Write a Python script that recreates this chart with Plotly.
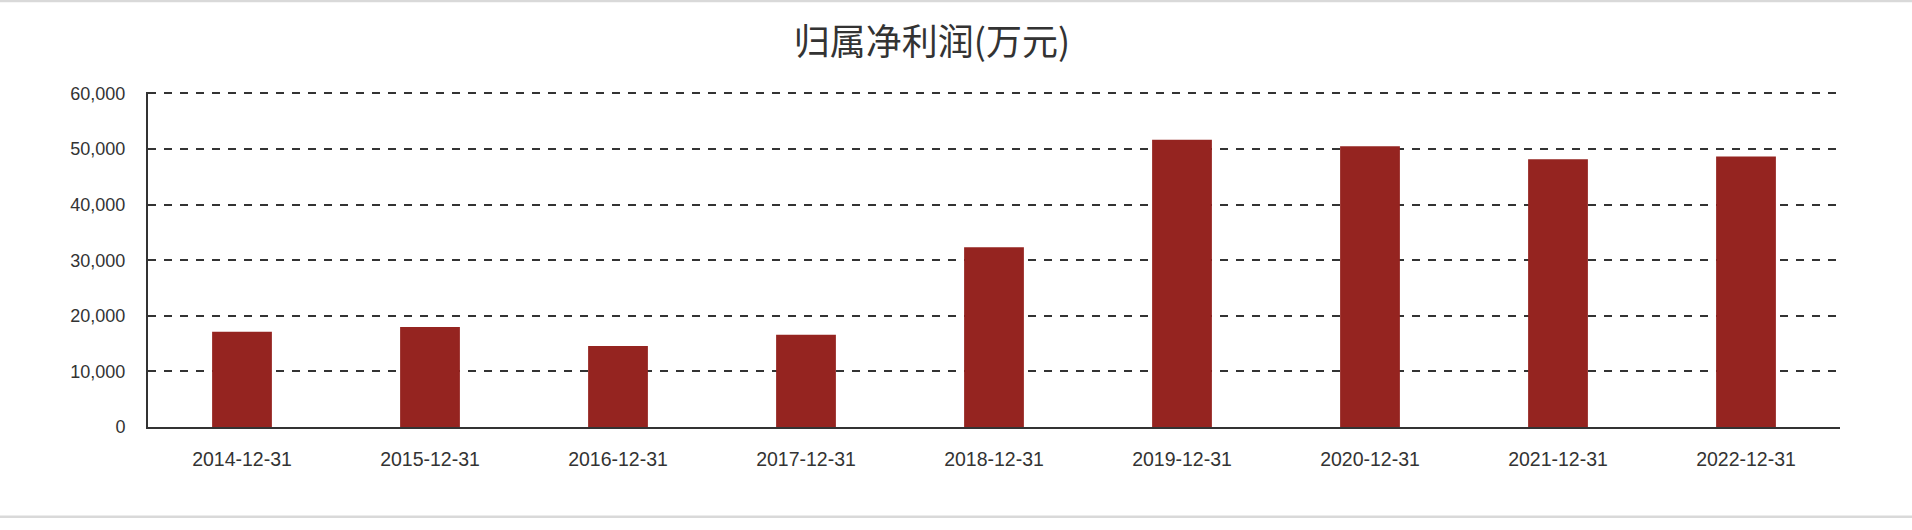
import plotly.graph_objects as go

categories = ["2014-12-31", "2015-12-31", "2016-12-31", "2017-12-31", "2018-12-31",
              "2019-12-31", "2020-12-31", "2021-12-31", "2022-12-31"]
profit = [17150, 18000, 14590, 16610, 32330, 51680, 50480, 48150, 48640]
y_ticks = [0, 10000, 20000, 30000, 40000, 50000, 60000]
y_tick_text = ["0", "10,000", "20,000", "30,000", "40,000", "50,000", "60,000"]
title_text = "归属净利润(万元)"

W, H = 1912, 530
ML, MR, MT, MB = 148, 72, 92, 103
plot_h = H - MT - MB
plot_w = W - ML - MR

fig = go.Figure(go.Bar(
    x=categories, y=profit,
    marker=dict(color="#952420", line=dict(width=0)),
    width=0.318,
))

fig.update_layout(
    width=W, height=H,
    margin=dict(l=ML, r=MR, t=MT, b=MB, autoexpand=False),
    paper_bgcolor="white", plot_bgcolor="white",
    showlegend=False,
    title=dict(text=title_text, x=932 / W, xref="container", xanchor="center",
               y=1 - 42 / H, yref="container", yanchor="middle",
               font=dict(family="Noto Sans CJK SC", size=36, color="#333333")),
    font=dict(family="Liberation Sans, Arial", color="#333333"),
    bargap=0.68,
)

fig.update_xaxes(
    type="category", showgrid=False, zeroline=False, automargin=False,
    showline=True, linecolor="#333333", linewidth=2,
    ticks="", tickfont=dict(size=19.5, color="#333333"),
    ticklabelstandoff=14,
)
fig.update_yaxes(
    range=[0, 60250], tickvals=y_ticks, ticktext=y_tick_text, automargin=False,
    showgrid=True, gridcolor="#333333", gridwidth=1.6, griddash="8px,8px",
    zeroline=False, showline=True, linecolor="#333333", linewidth=2,
    ticks="", tickfont=dict(size=18, color="#333333"),
    ticklabelstandoff=17,
)

# light grey container border lines (top and bottom of the card)
def px_to_paper_y(py):
    return (H - MB - py) / plot_h

def px_to_paper_x(px):
    return (px - ML) / plot_w

for py in (1, 516.7):
    fig.add_shape(type="line", xref="paper", yref="paper",
                  x0=px_to_paper_x(0), x1=px_to_paper_x(W),
                  y0=px_to_paper_y(py), y1=px_to_paper_y(py),
                  line=dict(color="#d9d9d9", width=2.5), layer="above")

fig.write_html("out.html",
               config={"displayModeBar": False},
               post_script="document.body.style.margin='0';document.body.style.overflow='hidden';")
